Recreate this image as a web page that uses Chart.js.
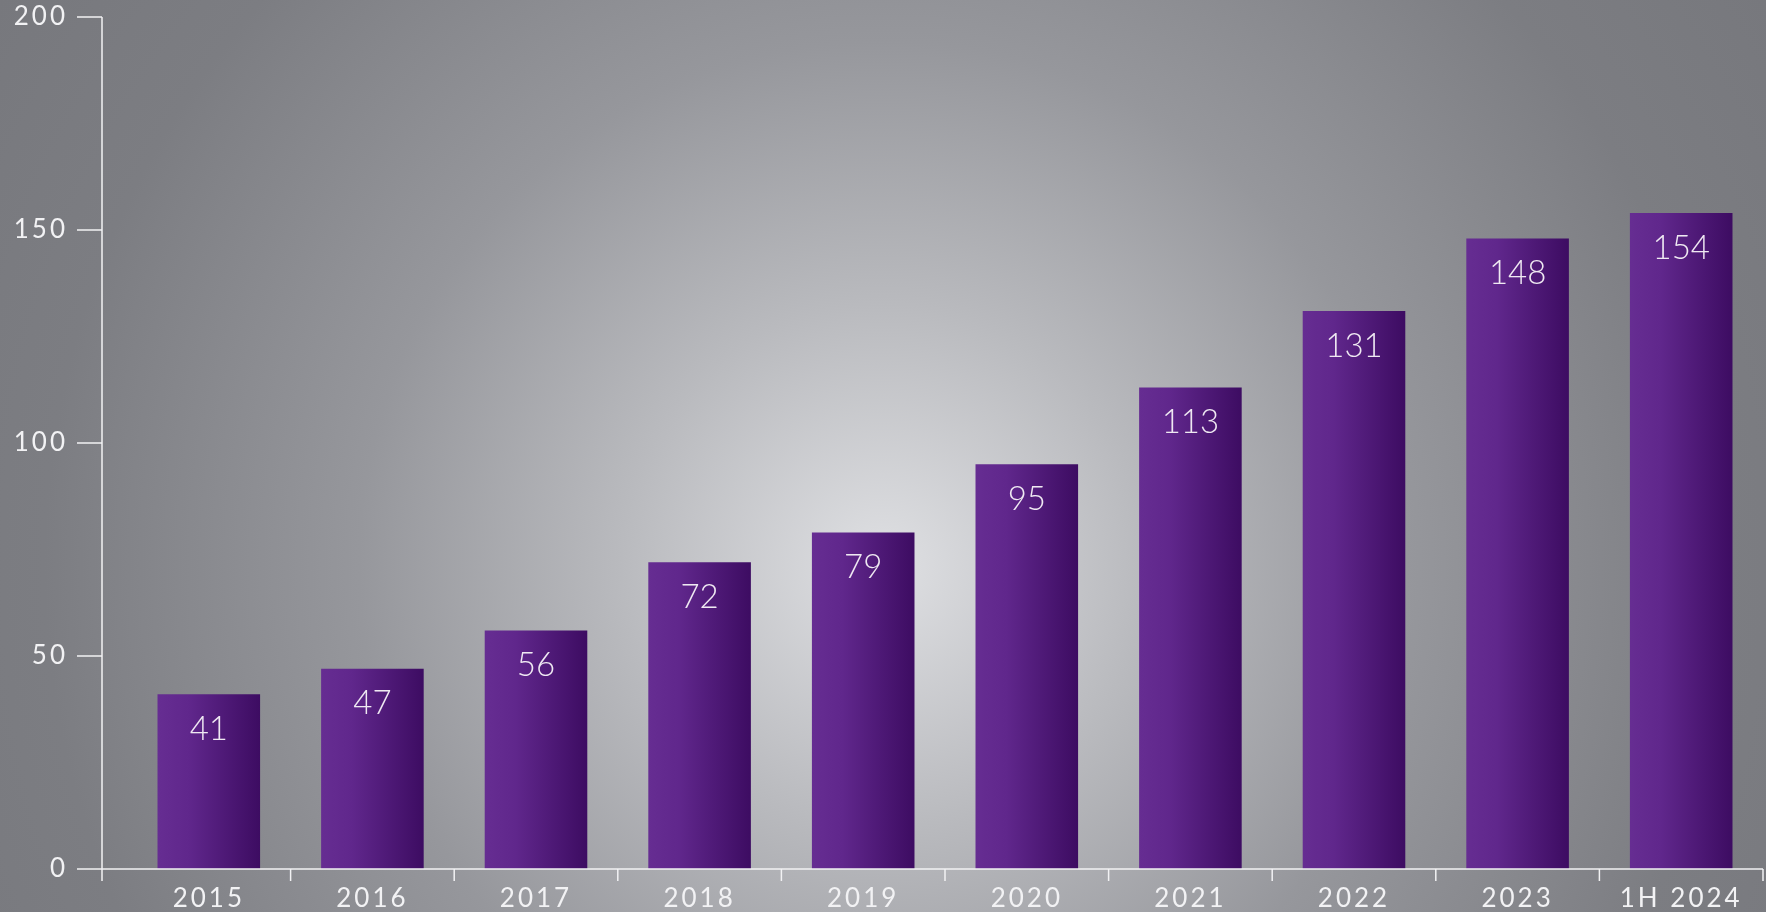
<!DOCTYPE html>
<html>
<head>
<meta charset="utf-8">
<script src="https://cdn.jsdelivr.net/npm/chart.js@4"></script>
<style>
  html, body { margin: 0; padding: 0; }
  body {
    width: 1766px; height: 912px; overflow: hidden;
    background: radial-gradient(circle at 50% 62%, #dfe0e3 0%, #b9babe 25%, #96979c 50%, #7c7d82 80%, #77787d 100%);
  }
  #wrap { width: 1766px; height: 912px; }
</style>
</head>
<body>
<div id="wrap"><canvas id="grafica"></canvas></div>
<script>
// datos
const categorias = ["2015", "2016", "2017", "2018", "2019", "2020", "2021", "2022", "2023", "1H 2024"];
const valores = [41, 47, 56, 72, 79, 95, 113, 131, 148, 154];
const ticksY = [0, 50, 100, 150, 200];

const colorLinea = "#f2f2f4";
const fuente = "Lato, 'Open Sans', sans-serif";
const anchoBarra = 0.627;

// ejes dibujados a mano (linea vertical separada de las barras)
const ejes = {
  id: "ejes",
  beforeDraw(chart) {
    chart.ctx.letterSpacing = "3px";
  },
  afterDraw(chart) {
    const { ctx, scales: { x, y } } = chart;
    const ejeX = 102;
    const base = y.getPixelForValue(0);
    ctx.save();
    ctx.strokeStyle = colorLinea;
    ctx.lineWidth = 1.5;
    ctx.beginPath();
    ctx.moveTo(ejeX, y.getPixelForValue(200));
    ctx.lineTo(ejeX, base + 12);
    ctx.moveTo(ejeX, base);
    ctx.lineTo(x.right, base);
    ticksY.forEach(v => {
      const py = y.getPixelForValue(v);
      ctx.moveTo(ejeX - 25, py);
      ctx.lineTo(ejeX, py);
    });
    const ancho = x.width / categorias.length;
    categorias.forEach((c, i) => {
      const px = x.getPixelForValue(i) + ancho / 2;
      ctx.moveTo(px, base);
      ctx.lineTo(px, base + 12);
    });
    ctx.stroke();
    ctx.restore();
  }
};

// etiqueta del valor dentro de cada barra
const etiquetas = {
  id: "etiquetas",
  afterDatasetsDraw(chart) {
    const { ctx } = chart;
    ctx.save();
    ctx.letterSpacing = "0px";
    ctx.fillStyle = "#efe9f2";
    ctx.font = "300 33px " + fuente;
    ctx.textAlign = "center";
    ctx.textBaseline = "middle";
    chart.getDatasetMeta(0).data.forEach((el, i) => {
      ctx.fillText(valores[i], el.x, el.y + 35);
    });
    ctx.restore();
  }
};

// degradado horizontal para cada barra
function degradado(context) {
  const chart = context.chart;
  const x = chart.scales.x;
  if (!x || context.type !== "data") return "#5a2386";
  const mitad = x.width / categorias.length * anchoBarra / 2;
  const cx = x.getPixelForValue(context.dataIndex);
  if (!isFinite(cx) || !isFinite(mitad) || mitad <= 0) return "#5a2386";
  const g = chart.ctx.createLinearGradient(cx - mitad, 0, cx + mitad, 0);
  g.addColorStop(0, "#662d92");
  g.addColorStop(0.3, "#60278c");
  g.addColorStop(1, "#3d0c62");
  return g;
}

new Chart(document.getElementById("grafica").getContext("2d"), {
  type: "bar",
  data: {
    labels: categorias,
    datasets: [{
      data: valores,
      backgroundColor: degradado,
      categoryPercentage: 1,
      barPercentage: anchoBarra
    }]
  },
  options: {
    responsive: true,
    maintainAspectRatio: false,
    animation: false,
    layout: { padding: { top: 17, right: 3, left: 0, bottom: 0 } },
    plugins: { legend: { display: false }, tooltip: { enabled: false } },
    scales: {
      x: {
        grid: { display: false },
        border: { display: false },
        ticks: { color: "#f2f2f4", font: { family: fuente, size: 26, weight: 400 }, padding: 6, maxRotation: 0 },
        afterFit(s) { s.height = 43; }
      },
      y: {
        min: 0, max: 200,
        grid: { display: false, drawTicks: true, tickLength: 59 },
        border: { display: false },
        ticks: {
          stepSize: 50, color: "#f2f2f4", padding: 0,
          font: { family: fuente, size: 26, weight: 400 }
        },
        afterFit(s) { s.width = 127; }
      }
    }
  },
  plugins: [ejes, etiquetas]
});
</script>
</body>
</html>
